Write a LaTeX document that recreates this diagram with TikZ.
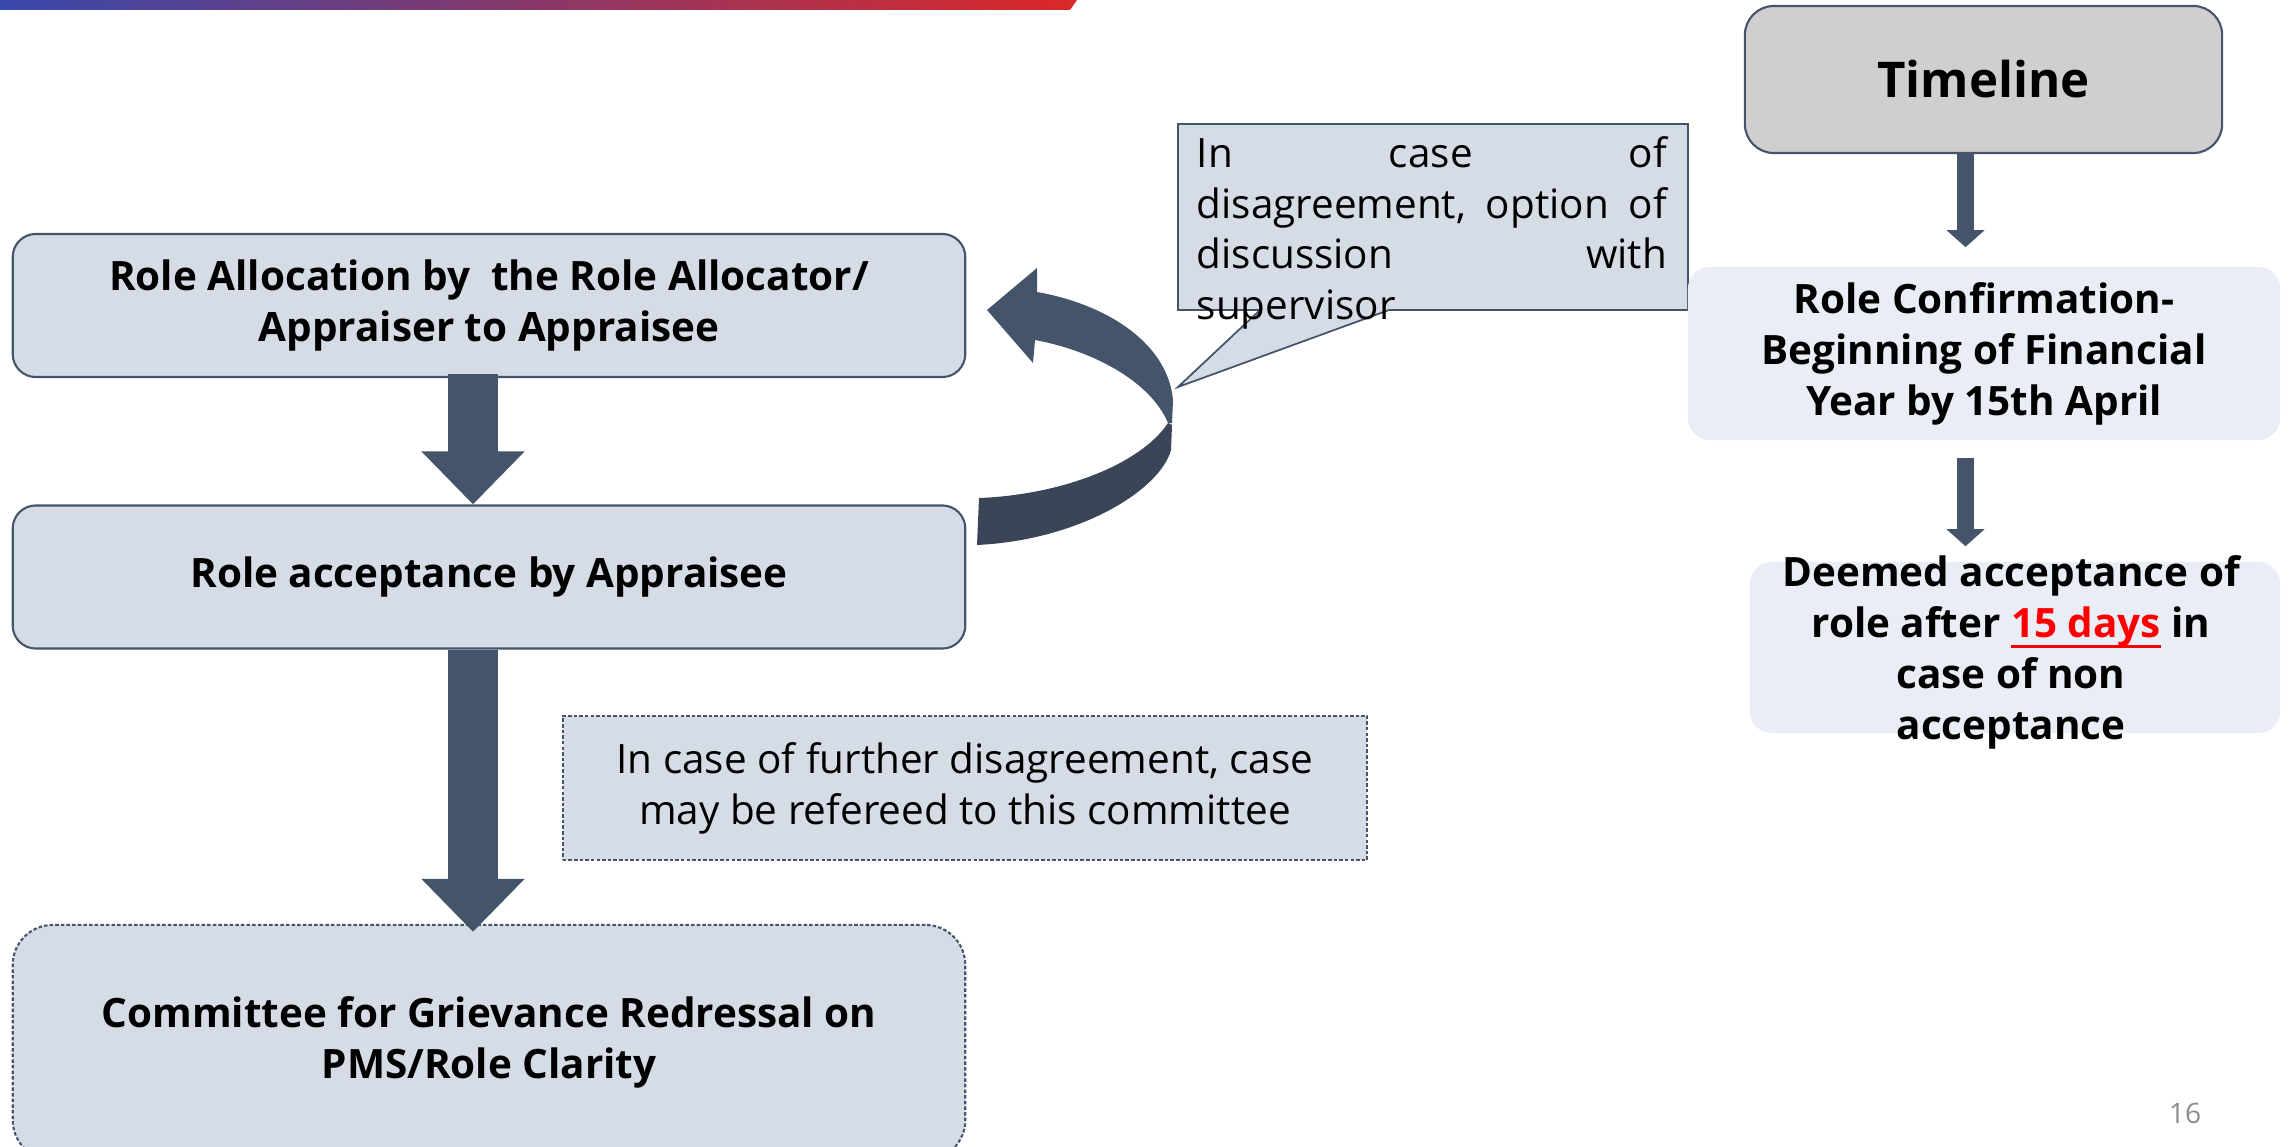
\documentclass[tikz,border=0pt]{standalone}
\usepackage{fontspec}
\setmainfont{Open Sans}
\usetikzlibrary{arrows.meta,calc}
\definecolor{boxfill}{HTML}{D6DCE5}
\definecolor{edge}{HTML}{44546A}
\definecolor{lightfill}{HTML}{E9EDF5}
\definecolor{tlfill}{HTML}{D0CECE}
\definecolor{arrowc}{HTML}{44546A}
\definecolor{arrowdark}{HTML}{3A4657}
\definecolor{barblue}{HTML}{3748AA}
\definecolor{barmid}{HTML}{9B3A8A}
\definecolor{barred}{HTML}{DC2828}
\definecolor{pagegray}{HTML}{8C8C8C}
\definecolor{hotred}{HTML}{FF0000}
\newcommand{\redul}[1]{{\color{hotred}\setbox0\hbox{#1}\rlap{\rule[-3.2pt]{\wd0}{0.9pt}}\box0}}
\newcommand{\fillline}[1]{\leavevmode\hbox to 4.70cm{#1}}
\begin{document}
\begin{tikzpicture}[x=0.01cm,y=-0.01cm,
  boxtext/.style={font=\bfseries\fontsize{11.5}{14.5}\selectfont, align=center},
  leftbox/.style={draw=edge, line width=0.6pt, fill=boxfill, rounded corners=0.23cm,
     minimum width=9.52cm, minimum height=1.43cm, inner sep=0pt, boxtext},
  dashedge/.style={dash pattern=on 1pt off 0.6pt},
  notebox/.style={draw=edge, line width=0.5pt, fill=boxfill, dashedge,
     minimum width=8.04cm, minimum height=1.44cm, inner sep=0pt, align=center,
     font=\fontsize{11.5}{14.5}\selectfont},
  bigarrow/.style={draw=arrowc, line width=0.5cm, -{Triangle[width=1.0cm,length=0.53cm]}},
  smallarrow/.style={draw=arrowc, line width=0.17cm, -{Triangle[width=0.37cm,length=0.17cm]}}
]
\useasboundingbox (0,0) rectangle (2292,1146);
\clip (0,0) rectangle (2292,1146);

% top gradient bar
\shade[left color=barblue, middle color=barmid, right color=barred]
  (0,0) -- (1077,0) -- (1070,10) -- (0,10) -- cycle;

% left column boxes
\node[leftbox] (b1) at (489,305.5) {Role Allocation by\ \ the Role Allocator/\\Appraiser to Appraisee};
\node[leftbox] (b2) at (489,577) {Role acceptance by Appraisee};
\node[leftbox, dashedge, rounded corners=0.4cm, minimum height=2.35cm] (b3) at (489,1042.5)
  {Committee for Grievance Redressal on\\PMS/Role Clarity};
\node[notebox] (db) at (965,788) {In case of further disagreement, case\\may be refereed to this committee};

% straight block arrows on the left
\coordinate (lx) at (473,0);
\draw[bigarrow] ($(b1.south -| lx)+(0,-4)$) -- (b2.north -| lx);
\draw[bigarrow] (b2.south -| lx) -- ($(b3.north -| lx)+(0,8)$);

% curved arrow (twisted ribbon)
\fill[arrowdark] (979,498) .. controls (1060,495) and (1140,465) .. (1168,423)
  -- (1172,425) -- (1171,450) .. controls (1160,490) and (1080,540) .. (977,545) -- cycle;
\fill[arrowc] (1037,268) -- (987,310) -- (1033,363) -- (1035,340)
  .. controls (1090,350) and (1150,380) .. (1168,423) -- (1172,423) -- (1173,400)
  .. controls (1168,345) and (1110,305) .. (1037,292) -- cycle;

% callout
\filldraw[fill=boxfill, draw=edge, line width=0.5pt]
  (1178,124) -- (1688,124) -- (1688,310) -- (1389,310) -- (1178,387) -- (1260,310) -- (1178,310) -- cycle;
\node[anchor=north west, inner sep=0pt, text width=4.70cm, align=left,
  font=\fontsize{11.5}{14.4}\selectfont] (ct) at (1196,136)
  {\fillline{In\hfill case\hfill of}\\\fillline{disagreement,\hfill option\hfill of}\\\fillline{discussion\hfill with}\\supervisor};

% right column
\node[draw=edge, line width=0.6pt, fill=tlfill, rounded corners=0.29cm, minimum width=4.77cm,
  minimum height=1.47cm, font=\bfseries\fontsize{14}{17}\selectfont] (tl) at (1983.5,79.5) {Timeline};
\node[fill=lightfill, rounded corners=0.22cm, minimum width=5.92cm, minimum height=1.73cm,
  inner sep=0pt, boxtext] (rc) at (1984,353.5) {Role Confirmation-\\Beginning of Financial\\Year by 15th April};
\node[fill=lightfill, rounded corners=0.22cm, minimum width=5.3cm, minimum height=1.71cm] (da) at (2015,647.5) {};
\node[boxtext, inner sep=0pt] (datext) at (2011,652)
  {Deemed acceptance of\\role after \redul{15 days} in\\case of non\\acceptance};

\coordinate (ax) at (1965.5,0);
\draw[smallarrow] (tl.south -| ax) -- ($(rc.north -| ax)+(0,-19)$);
\draw[smallarrow] ($(rc.south -| ax)+(0,17)$) -- ($(da.north -| ax)+(0,-15)$);

% page number
\node[font=\fontsize{8}{9.6}\selectfont, text=pagegray] (pg) at (2185,1113) {16};
\end{tikzpicture}
\end{document}
